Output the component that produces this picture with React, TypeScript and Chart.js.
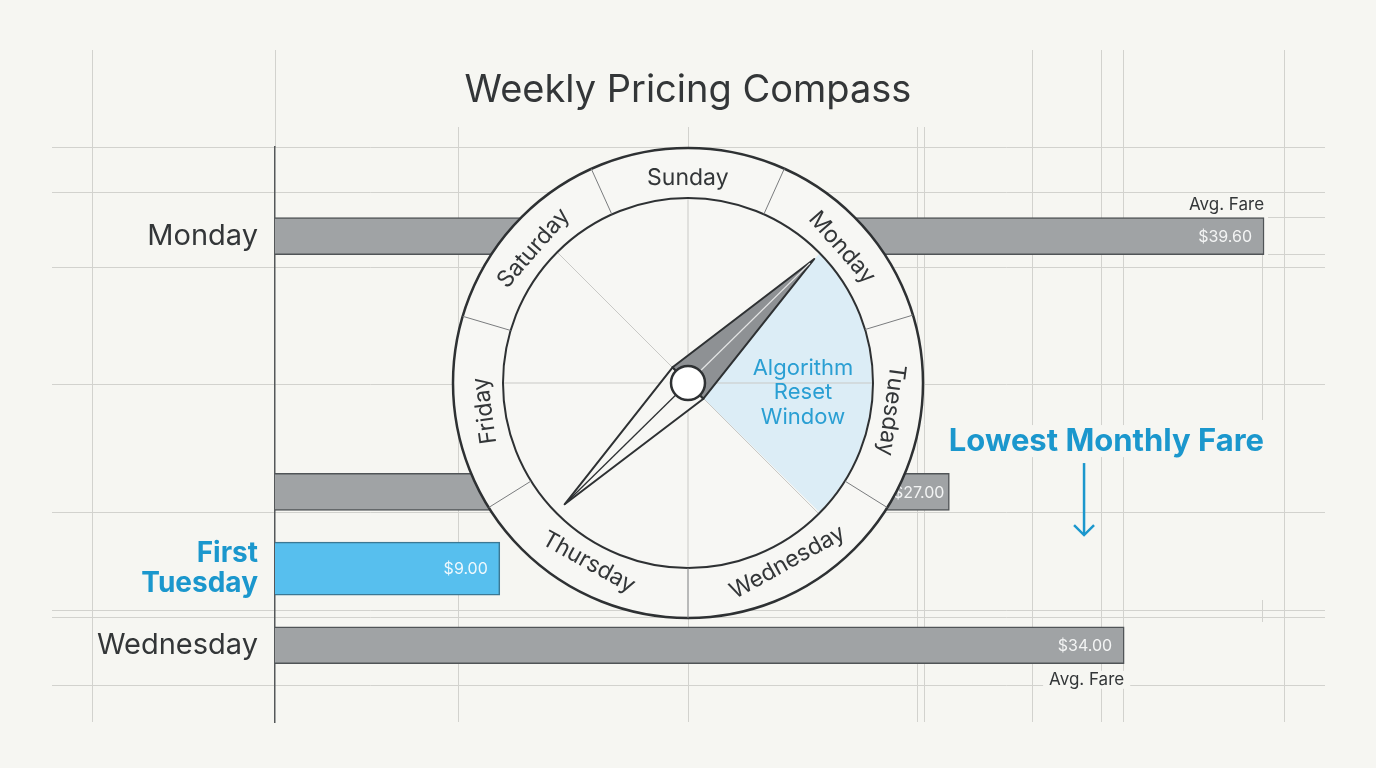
import React, { useEffect, useRef } from 'react';
import { Chart, registerables } from 'chart.js';

Chart.register(...registerables);

// ---------- data ----------
const categories = ['Monday', 'Tuesday', 'First Tuesday', 'Wednesday'];
const fares = [39.6, 27.0, 9.0, 34.0];
const tickLabels = ['Monday', '', 'First Tuesday', 'Wednesday'];
const highlightCategory = 'First Tuesday';
const avgFareCategories = ['Monday', 'Wednesday'];
const compassDays = ['Sunday', 'Monday', 'Tuesday', 'Wednesday', 'Thursday', 'Friday', 'Saturday'];
const compassBoundariesDeg = [-114.3, -65.8, -16.8, 32, 90, 148, 196.5];
const resetWindowLines = ['Algorithm', 'Reset', 'Window'];
const titleText = 'Weekly Pricing Compass';
const calloutText = 'Lowest Monthly Fare';
const avgFareText = 'Avg. Fare';

// ---------- layout (row slots on the linear index axis) ----------
const rowSlots = [0, 10, 13, 16];

// ---------- style ----------
const BG = '#f6f6f2';
const GRID = '#d2d2ce';
const INK = '#333638';
const BLUE_TEXT = '#1b97cd';
const BLUE_BAR = '#57bfee';
const GRAY_BAR = '#a0a3a5';
const FONT = "Inter, 'DejaVu Sans', sans-serif";

const vLines: number[][] = [
  [92, 50, 722], [275, 50, 147], [458, 127, 722], [688, 127, 722], [917, 127, 722], [924, 127, 722],
  [1032, 50, 722], [1101, 50, 722], [1123, 50, 722], [1284, 50, 722], [1262, 255, 420], [1262, 600, 622],
];
const hLines: number[][] = [
  [147, 52, 1325], [192, 52, 1325], [267, 52, 1325], [384, 52, 1325], [512, 52, 1325],
  [610, 52, 1325], [617, 52, 1325], [685, 52, 1325], [217, 1268, 1325], [254, 1268, 1325],
];

const deg = (d: number) => (d * Math.PI) / 180;

const compassGeom = (chart: any) => ({ cx: chart.width / 2, cy: chart.height * 0.4987, R: 235, r: 185 });

const backgroundPlugin = {
  id: 'paperGrid',
  beforeDraw(chart: any) {
    const { ctx, width, height } = chart;
    ctx.save();
    ctx.fillStyle = BG;
    ctx.fillRect(0, 0, width, height);
    ctx.strokeStyle = GRID;
    ctx.lineWidth = 1;
    vLines.forEach(([x, y0, y1]) => {
      ctx.beginPath();
      ctx.moveTo(x + 0.5, y0);
      ctx.lineTo(x + 0.5, y1);
      ctx.stroke();
    });
    hLines.forEach(([y, x0, x1]) => {
      ctx.beginPath();
      ctx.moveTo(x0, y + 0.5);
      ctx.lineTo(x1, y + 0.5);
      ctx.stroke();
    });
    ctx.restore();
  },
};

function findBar(chart: any, cat: string) {
  for (let di = 0; di < chart.data.datasets.length; di++) {
    const ds = chart.data.datasets[di];
    const meta = chart.getDatasetMeta(di);
    for (let i = 0; i < ds.data.length; i++) {
      if (ds.data[i].cat === cat) return meta.data[i].getProps(['x', 'y', 'base', 'height'], true);
    }
  }
  return null;
}

function textWithBg(ctx: any, text: string, x: number, y: number, padX: number, padY: number, h: number) {
  const w = ctx.measureText(text).width;
  const left = ctx.textAlign === 'right' ? x - w : ctx.textAlign === 'center' ? x - w / 2 : x;
  ctx.save();
  ctx.fillStyle = BG;
  ctx.fillRect(left - padX, y - h + 2 - padY, w + padX * 2, h + padY * 2);
  ctx.restore();
  ctx.fillText(text, x, y);
}

function drawCompass(chart: any) {
  const { ctx } = chart;
  const { cx, cy, R, r } = compassGeom(chart);
  ctx.save();

  // outer disc
  ctx.beginPath();
  ctx.arc(cx, cy, R, 0, Math.PI * 2);
  ctx.fillStyle = '#f7f7f4';
  ctx.fill();
  ctx.lineWidth = 2.5;
  ctx.strokeStyle = '#2e3133';
  ctx.stroke();

  // reset window sector
  ctx.beginPath();
  ctx.moveTo(cx, cy);
  ctx.arc(cx, cy, r - 1, deg(-44.5), deg(44.5));
  ctx.closePath();
  ctx.fillStyle = '#dcedf6';
  ctx.fill();

  // inner guide lines
  ctx.strokeStyle = '#c9c9c6';
  ctx.lineWidth = 1;
  [90, 0, 45].forEach((a) => {
    ctx.beginPath();
    ctx.moveTo(cx - r * Math.cos(deg(a)), cy - r * Math.sin(deg(a)));
    ctx.lineTo(cx + r * Math.cos(deg(a)), cy + r * Math.sin(deg(a)));
    ctx.stroke();
  });

  // inner circle
  ctx.beginPath();
  ctx.arc(cx, cy, r, 0, Math.PI * 2);
  ctx.lineWidth = 2;
  ctx.strokeStyle = '#2e3133';
  ctx.stroke();

  // ring dividers
  ctx.strokeStyle = '#7a7c7e';
  ctx.lineWidth = 1;
  compassBoundariesDeg.forEach((a) => {
    ctx.beginPath();
    ctx.moveTo(cx + r * Math.cos(deg(a)), cy + r * Math.sin(deg(a)));
    ctx.lineTo(cx + R * Math.cos(deg(a)), cy + R * Math.sin(deg(a)));
    ctx.stroke();
  });

  // day labels
  ctx.fillStyle = INK;
  ctx.font = `23px ${FONT}`;
  ctx.textAlign = 'center';
  ctx.textBaseline = 'middle';
  compassDays.forEach((day, i) => {
    const a0 = compassBoundariesDeg[i];
    const a1 = i < compassDays.length - 1 ? compassBoundariesDeg[i + 1] : compassBoundariesDeg[0] + 360;
    const mid = (a0 + a1) / 2;
    const rr = 205;
    const tx = cx + rr * Math.cos(deg(mid));
    const ty = cy + rr * Math.sin(deg(mid));
    const rot = mid > 20 && mid < 160 ? mid - 90 : mid + 90;
    ctx.save();
    ctx.translate(tx, ty);
    ctx.rotate(deg(rot));
    ctx.fillText(day, 0, 0);
    ctx.restore();
  });

  // reset window text
  ctx.fillStyle = '#2a9fd3';
  ctx.font = `22px ${FONT}`;
  resetWindowLines.forEach((line, i) => {
    ctx.fillText(line, cx + 115, cy - 15 + i * 24.5);
  });

  // needle
  const na = deg(-44.5);
  const ux = Math.cos(na), uy = Math.sin(na);
  const px = -uy, py = ux;
  const hw = 22;
  const tip = [cx + ux * 177, cy + uy * 177];
  const tail = [cx - ux * 173, cy - uy * 173];
  const s1 = [cx + px * hw, cy + py * hw];
  const s2 = [cx - px * hw, cy - py * hw];
  ctx.lineJoin = 'round';
  // lower (light) half
  ctx.beginPath();
  ctx.moveTo(tail[0], tail[1]);
  ctx.lineTo(s1[0], s1[1]);
  ctx.lineTo(s2[0], s2[1]);
  ctx.closePath();
  ctx.fillStyle = '#f7f7f4';
  ctx.fill();
  ctx.strokeStyle = '#2e3133';
  ctx.lineWidth = 2;
  ctx.stroke();
  ctx.beginPath();
  ctx.moveTo(tail[0], tail[1]);
  ctx.lineTo(cx, cy);
  ctx.lineWidth = 1.3;
  ctx.stroke();
  // upper (gray) half
  ctx.beginPath();
  ctx.moveTo(tip[0], tip[1]);
  ctx.lineTo(s1[0], s1[1]);
  ctx.lineTo(s2[0], s2[1]);
  ctx.closePath();
  ctx.fillStyle = '#8e9194';
  ctx.fill();
  ctx.lineWidth = 2;
  ctx.strokeStyle = '#2e3133';
  ctx.stroke();
  ctx.beginPath();
  ctx.moveTo(tip[0] - ux * 6, tip[1] - uy * 6);
  ctx.lineTo(cx, cy);
  ctx.strokeStyle = '#e4e5e5';
  ctx.lineWidth = 1.3;
  ctx.stroke();

  // hub
  ctx.beginPath();
  ctx.arc(cx, cy, 17, 0, Math.PI * 2);
  ctx.fillStyle = '#ffffff';
  ctx.fill();
  ctx.strokeStyle = '#2e3133';
  ctx.lineWidth = 2.5;
  ctx.stroke();

  ctx.restore();
}

const overlayPlugin = {
  id: 'overlay',
  afterDatasetsDraw(chart: any) {
    const { ctx } = chart;
    const { cx, cy, R } = compassGeom(chart);
    ctx.save();
    // value labels inside bar ends (nudged right if the compass would cover them)
    ctx.font = `16px ${FONT}`;
    ctx.textAlign = 'right';
    ctx.textBaseline = 'middle';
    chart.data.datasets.forEach((ds: any, di: number) => {
      const meta = chart.getDatasetMeta(di);
      meta.data.forEach((el: any, i: number) => {
        const { x, y, height } = el.getProps(['x', 'y', 'height'], true);
        const text = '$' + ds.data[i].x.toFixed(2);
        const w = ctx.measureText(text).width;
        let right = x - 12;
        const dyMax = Math.min(Math.abs(y - cy), Math.abs(y - 8 - cy), Math.abs(y + 8 - cy));
        if (dyMax < R) {
          const edge = cx + Math.sqrt(R * R - dyMax * dyMax) + 3;
          if (right - w < edge && x > edge) right = Math.min(x - 5, edge + w);
        }
        ctx.fillStyle = ds.data[i].cat === highlightCategory ? '#eef8fd' : '#f3f4f4';
        ctx.fillText(text, right, y + 1);
      });
    });
    ctx.restore();

    drawCompass(chart);

    ctx.save();
    // Avg. Fare captions
    ctx.font = `17px ${FONT}`;
    ctx.fillStyle = INK;
    ctx.textAlign = 'right';
    ctx.textBaseline = 'alphabetic';
    avgFareCategories.forEach((cat, k) => {
      const b = findBar(chart, cat);
      if (!b) return;
      const top = b.y - b.height / 2;
      const bottom = b.y + b.height / 2;
      const yText = k === 0 ? top - 8 : bottom + 21;
      textWithBg(ctx, avgFareText, b.x, yText, 6, 2, 14);
    });

    // callout
    const hb = findBar(chart, highlightCategory);
    if (hb) {
      const xScale = chart.scales.x;
      const right = xScale.getPixelForValue(Math.max(...fares));
      const barTop = hb.y - hb.height / 2;
      ctx.font = `bold 31px ${FONT}`;
      ctx.fillStyle = BLUE_TEXT;
      ctx.textAlign = 'right';
      const baseline = barTop - 91;
      textWithBg(ctx, calloutText, right, baseline, 4, 4, 24);
      const ax = right - 180;
      const y0 = baseline + 12;
      const y1 = barTop - 7;
      ctx.strokeStyle = BLUE_TEXT;
      ctx.lineWidth = 2.5;
      ctx.beginPath();
      ctx.moveTo(ax, y0);
      ctx.lineTo(ax, y1);
      ctx.stroke();
      ctx.beginPath();
      ctx.moveTo(ax - 10, y1 - 10);
      ctx.lineTo(ax, y1);
      ctx.lineTo(ax + 10, y1 - 10);
      ctx.stroke();
    }
    ctx.restore();
  },
};

export default function App() {
  const canvasRef = useRef<HTMLCanvasElement | null>(null);

  useEffect(() => {
    document.body.style.margin = '0';
    document.body.style.background = BG;
    const canvas = canvasRef.current;
    if (!canvas) return;
    Chart.defaults.font.family = FONT;

    const grayData = categories
      .map((cat, i) => ({ x: fares[i], y: rowSlots[i], cat }))
      .filter((d) => d.cat !== highlightCategory);
    const blueData = categories
      .map((cat, i) => ({ x: fares[i], y: rowSlots[i], cat }))
      .filter((d) => d.cat === highlightCategory);

    const isHighlightTick = (v: number) => tickLabels[rowSlots.indexOf(v)] === highlightCategory;

    const chart = new Chart(canvas, {
      type: 'bar',
      data: {
        datasets: [
          {
            label: 'Avg. Fare',
            data: grayData as any,
            backgroundColor: GRAY_BAR,
            borderColor: '#505457',
            borderWidth: 1.5,
            barThickness: 37,
            grouped: false,
          } as any,
          {
            label: 'First Tuesday',
            data: blueData as any,
            backgroundColor: BLUE_BAR,
            borderColor: '#3b7894',
            borderWidth: 1.5,
            barThickness: 53,
            grouped: false,
          } as any,
        ],
      },
      options: {
        indexAxis: 'y',
        animation: false,
        responsive: true,
        maintainAspectRatio: false,
        events: [],
        layout: { padding: { top: 0, right: 52, bottom: 46, left: 52 } },
        plugins: {
          legend: { display: false },
          tooltip: { enabled: false },
          title: {
            display: true,
            text: titleText,
            color: INK,
            font: { size: 38, weight: 'normal', family: FONT, lineHeight: 1.2 },
            padding: { top: 68, bottom: 33 },
          },
        },
        scales: {
          x: {
            type: 'linear',
            min: 0,
            max: 42,
            display: false,
          },
          y: {
            type: 'linear',
            reverse: true,
            offset: false,
            bounds: 'data',
            grace: 0,
            min: -3.5,
            max: 19,
            afterBuildTicks: (scale: any) => {
              scale.ticks = rowSlots.map((v) => ({ value: v }));
            },
            afterFit: (scale: any) => {
              scale.width = 223;
            },
            grid: { display: false, drawTicks: false, offset: false },
            border: { display: true, color: '#55585a', width: 1.5 },
            ticks: {
              autoSkip: false,
              padding: 17,
              callback: (v: any) => {
                const lab = tickLabels[rowSlots.indexOf(Number(v))] ?? '';
                return lab === highlightCategory ? lab.split(' ') : lab;
              },
              color: (c: any) => (c.tick && isHighlightTick(c.tick.value) ? BLUE_TEXT : INK),
              font: (c: any) =>
                c.tick && isHighlightTick(c.tick.value)
                  ? { size: 28, weight: 'bold', family: FONT, lineHeight: 1.08 }
                  : { size: 29, weight: 'normal', family: FONT },
            },
          },
        },
      } as any,
      plugins: [backgroundPlugin, overlayPlugin],
    });

    let alive = true;
    if ((document as any).fonts && (document as any).fonts.ready) {
      (document as any).fonts.ready.then(() => {
        if (alive) chart.update();
      });
    }
    return () => {
      alive = false;
      chart.destroy();
    };
  }, []);

  return (
    <div style={{ position: 'fixed', left: 0, top: 0, width: 1376, height: 768, background: BG }}>
      <canvas ref={canvasRef} />
    </div>
  );
}
